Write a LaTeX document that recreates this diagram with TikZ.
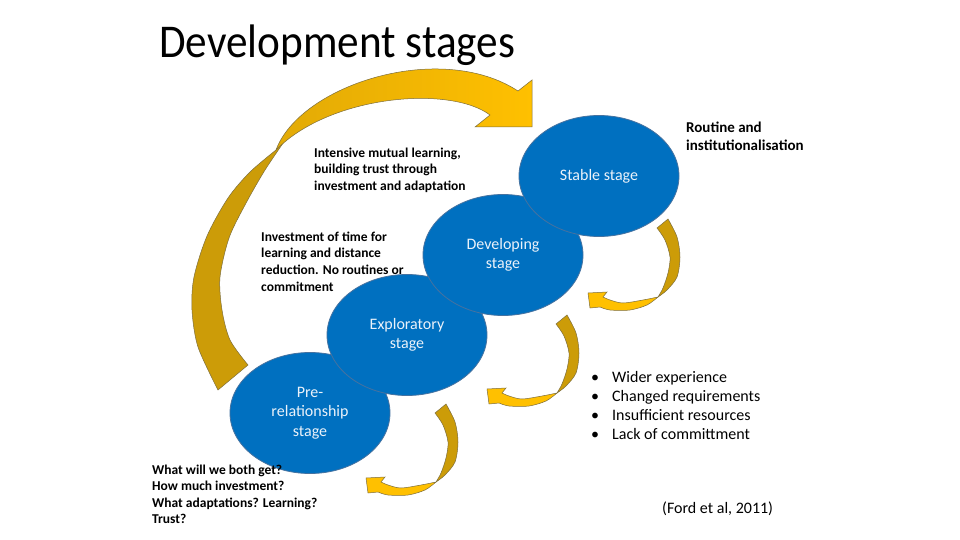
\documentclass[tikz,border=0pt]{standalone}
\usepackage{graphicx}
\usepackage{fontspec}
\setmainfont{Carlito}
\usetikzlibrary{shapes.geometric}
\definecolor{stageblue}{RGB}{0,112,192}
\definecolor{stageedge}{RGB}{70,114,160}
\definecolor{stagetext}{RGB}{235,242,250}
\definecolor{gold}{RGB}{255,192,0}
\definecolor{darkgold}{RGB}{204,156,8}
\definecolor{midgold}{RGB}{226,170,6}
\definecolor{arrowedge}{RGB}{125,110,60}
\tikzset{
  smallarrow/.pic={
    \filldraw[fill=darkgold, draw=arrowedge, line width=0.5pt]
      (-1,-69) -- (10,-78)
      -- plot[smooth] coordinates {(10,-78) (19,-60) (22,-40) (19,-20) (9,-7) (0,0)}
      -- plot[smooth] coordinates {(0,0) (5,-9) (10,-24) (12,-40) (7,-57) (-1,-69)} -- cycle;
    \filldraw[fill=gold, draw=arrowedge, line width=0.5pt]
      (0,0)
      -- plot[smooth] coordinates {(0,0) (-15,3) (-35,6) (-48,3) (-55,0)}
      -- (-51,-5) -- (-70,-4) -- (-68,11) -- (-58,10)
      -- plot[smooth] coordinates {(-58,10) (-48,13) (-28,13) (-11,8) (0,0)} -- cycle;
  }
}
\begin{document}
\begin{tikzpicture}[x=1pt,y=-1pt,
  stage/.style={ellipse, fill=stageblue, draw=stageedge, line width=0.8pt,
    minimum width=160pt, minimum height=121pt, inner sep=0pt, text=stagetext,
    align=center, font=\fontsize{16}{19.5}\selectfont},
  note/.style={anchor=north west, inner sep=0pt, align=left,
    font=\bfseries\fontsize{13.5}{16.8}\selectfont},
  plain/.style={anchor=north west, inner sep=0pt, align=left,
    font=\fontsize{16}{19.2}\selectfont},
  bigpiece/.style={draw=arrowedge, line width=0.5pt}
]
\useasboundingbox (0,0) rectangle (960,540);
\fill[white] (0,0) rectangle (960,540);

% title
\node[anchor=base west, inner sep=0pt, font=\fontsize{47}{50}\selectfont] (title) at (159,58)
  {\scalebox{0.92}[1]{Development stages}};

% big curved arrow: lower (dark) part
\filldraw[bigpiece, fill=darkgold]
  (288,136) -- (276,150)
  -- plot[smooth] coordinates {(276,150) (250,172) (228,198) (207,236) (194,277) (192,310) (198,347) (218,390)}
  -- (248,365)
  -- plot[smooth] coordinates {(248,365) (230,340) (222,310) (220,277) (229,238) (245,205) (265,170) (288,136)}
  -- cycle;
% big curved arrow: upper (bright) part with head
\shadedraw[bigpiece, left color=midgold, right color=gold]
  (276,150) .. controls (300,85) and (440,40) .. (518,91)
  -- (532,80) -- (532,127) -- (475,127) -- (490,115)
  .. controls (450,85) and (330,95) .. (276,150)
  -- cycle;

% small curved arrows
\pic at (658,297) {smallarrow};
\pic at (557,393) {smallarrow};
\pic at (436,482) {smallarrow};

% stages
\node[stage] (pre) at (310,413) {Pre-\\relationship\\stage};
\node[stage] (explore) at (407,335) {Exploratory\\stage};
\node[stage] (develop) at (503,255) {Developing\\stage};
\node[stage] (stable) at (599,176) {Stable stage};

% notes
\node[note] (intensive) at (314,147.5) {Intensive mutual learning,\\building trust through\\investment and adaptation};
\node[note] (investment) at (261,231.5) {Investment of time for\\learning and distance\\reduction. No routines or\\commitment};
\node[note, font=\bfseries\fontsize{13.5}{16.5}\selectfont] (questions) at (152,464.5) {What will we both get?\\How much investment?\\What adaptations? Learning?\\Trust?};
\node[note, font=\bfseries\fontsize{15}{18.5}\selectfont] (routine) at (686,121.5) {Routine and\\institutionalisation};
\node[plain] (reasons) at (591,370.7) {\makebox[21pt][l]{•}Wider experience\\\makebox[21pt][l]{•}Changed requirements\\\makebox[21pt][l]{•}Insufficient resources\\\makebox[21pt][l]{•}Lack of committment};
\node[anchor=base west, inner sep=0pt, font=\fontsize{16}{19}\selectfont] (source) at (662,513) {(Ford et al, 2011)};
\end{tikzpicture}
\end{document}
